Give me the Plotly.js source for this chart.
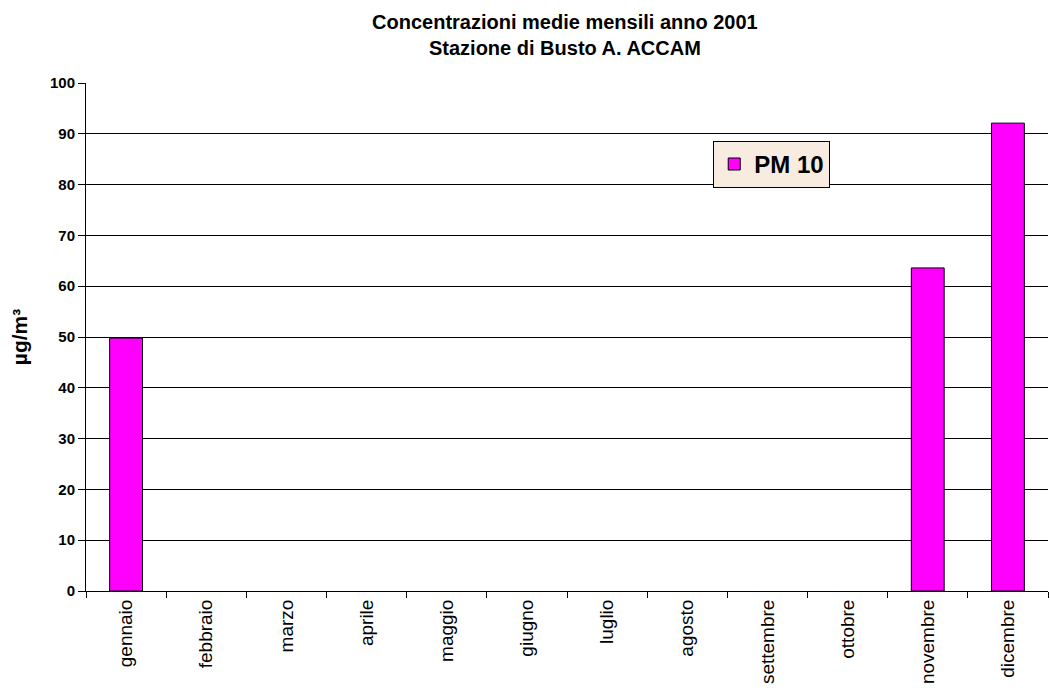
<!DOCTYPE html>
<html>
<head>
<meta charset="utf-8">
<script src="https://cdn.plot.ly/plotly-3.0.1.min.js"></script>
<style>html,body{margin:0;padding:0;background:#fff;}#chart{width:1050px;height:695px;}</style>
</head>
<body>
<div id="chart"></div>
<script>
const months = ["gennaio","febbraio","marzo","aprile","maggio","giugno","luglio","agosto","settembre","ottobre","novembre","dicembre"];
const pm10 = [49.8, null, null, null, null, null, null, null, null, null, 63.6, 92.1];
const yTicks = [0,10,20,30,40,50,60,70,80,90,100];

const FONT = "Liberation Sans, Arial, sans-serif";

const trace = {
  type: "bar",
  name: "PM 10",
  x: months,
  y: pm10,
  width: 0.41,
  marker: {color: "#FF00FF", line: {color: "#000000", width: 1}},
  hoverinfo: "x+y"
};

const layout = {
  width: 1050, height: 695,
  margin: {l: 86, r: 2, t: 83, b: 104},
  paper_bgcolor: "#ffffff",
  plot_bgcolor: "#ffffff",
  font: {family: FONT, color: "#000"},
  title: {
    text: "<b>Concentrazioni medie mensili anno 2001<br>Stazione di Busto A. ACCAM</b>",
    font: {size: 20, family: FONT, color: "#000"},
    x: 0.538, xanchor: "center", y: 0.958, yanchor: "top"
  },
  showlegend: true,
  legend: {
    x: 0.652, y: 0.886, xanchor: "left", yanchor: "top",
    bgcolor: "#F8EBDF", bordercolor: "#000", borderwidth: 1,
    font: {size: 24, family: FONT, color: "#000", weight: "bold"},
    itemwidth: 30, tracegroupgap: 0
  },
  xaxis: {
    type: "category",
    tickangle: -90,
    tickfont: {size: 19, family: FONT, color: "#000"},
    showline: true, linecolor: "#000", linewidth: 1,
    ticks: "outside", ticklen: 6, tickcolor: "#000",
    tickson: "boundaries",
    showgrid: false,
    range: [-0.5, 11.5]
  },
  yaxis: {
    range: [0, 100],
    tickvals: yTicks,
    tickfont: {size: 15, family: FONT, color: "#000", weight: "bold"},
    showline: true, linecolor: "#000", linewidth: 1,
    ticks: "outside", ticklen: 7, tickcolor: "#000",
    showgrid: true, gridcolor: "#000", gridwidth: 1,
    zeroline: false,
    title: {text: "<b>µg/m³</b>", font: {size: 21, family: FONT, color: "#000"}, standoff: 16}
  },
  bargap: 0.59
};

Plotly.newPlot("chart", [trace], layout, {displayModeBar: false, staticPlot: true});
</script>
</body>
</html>
